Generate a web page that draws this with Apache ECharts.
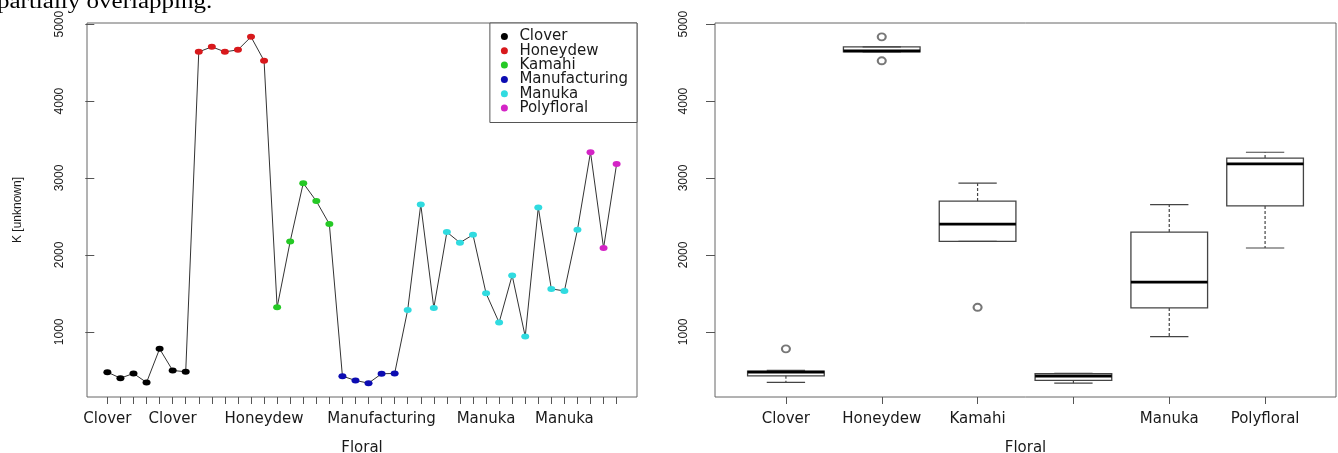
<!DOCTYPE html>
<html>
<head>
<meta charset="utf-8">
<script src="https://cdn.jsdelivr.net/npm/echarts@6/dist/echarts.min.js"></script>
<style>
html,body{margin:0;padding:0;background:#fff;}
#chart{width:1338px;height:453px;}
</style>
</head>
<body>
<div id="chart"></div>
<script>
// ---------- data ----------
const groups = ['Clover', 'Honeydew', 'Kamahi', 'Manufacturing', 'Manuka', 'Polyfloral'];
const kClover = [476, 398, 459, 342, 779, 498, 481];
const kHoneydew = [4640, 4705, 4640, 4666, 4835, 4524];
const kKamahi = [1319, 2175, 2933, 2700, 2401];
const kManufacturing = [424, 368, 333, 455, 459];
const kManuka = [1285, 2655, 1311, 2297, 2159, 2262, 1501, 1121, 1734, 939, 2617, 1558, 1532, 2327];
const kPolyfloral = [3335, 2090, 3183];
const groupValues = [kClover, kHoneydew, kKamahi, kManufacturing, kManuka, kPolyfloral];
const yTickValues = [1000, 2000, 3000, 4000, 5000];
const lineLabelPositions = [1, 6, 13, 22, 30, 36];          // which sample labels R kept
const boxTickLabels = ['Clover', 'Honeydew', 'Kamahi', '', 'Manuka', 'Polyfloral'];
const captionText = 'partially overlapping.';

// ---------- styles ----------
const groupColors = ['#000000', '#d8191c', '#25c925', '#0c0cb2', '#30dbe0', '#d424c6'];
const FONT = '"DejaVu Sans", sans-serif';
const AX = '#555';
const TXT = '#1a1a1a';

// ---------- derived ----------
const flatNames = [], flatVals = [], scatterByGroup = [];
let pos = 1;
groupValues.forEach((arr, gi) => {
  const pts = [];
  arr.forEach(v => { flatNames.push(groups[gi]); flatVals.push(v); pts.push([pos, v]); pos++; });
  scatterByGroup.push(pts);
});
const nPts = flatVals.length;
const lineData = flatVals.map((v, i) => [i + 1, v]);
const allMin = Math.min(...flatVals), allMax = Math.max(...flatVals);
const yMin = allMin - 0.04 * (allMax - allMin), yMax = allMax + 0.04 * (allMax - allMin);

function fivenum(a) {
  const x = a.slice().sort((p, q) => p - q); const n = x.length;
  const n4 = Math.floor((n + 3) / 2) / 2;
  const d = [1, n4, (n + 1) / 2, n + 1 - n4, n];
  return d.map(di => 0.5 * (x[Math.floor(di) - 1] + x[Math.ceil(di) - 1]));
}
const boxData = [], outData = [];
groupValues.forEach((arr, gi) => {
  const f = fivenum(arr); const iqr = f[3] - f[1];
  const lo = f[1] - 1.5 * iqr, hi = f[3] + 1.5 * iqr;
  const inside = arr.filter(v => v >= lo && v <= hi);
  arr.filter(v => v < lo || v > hi).forEach(v => outData.push([gi + 1, v]));
  boxData.push([gi + 1, Math.min(...inside), f[1], f[2], f[3], Math.max(...inside)]);
});
const nG = groups.length;

function xAxisBase(grid, min, max, tickVals, labelVals, fmt) {
  return {
    type: 'value', gridIndex: grid, min: min, max: max,
    name: 'Floral', nameLocation: 'middle', nameGap: 44,
    nameTextStyle: { fontFamily: FONT, fontSize: 15, color: TXT },
    axisLine: { show: false },
    splitLine: { show: false },
    axisTick: { show: true, customValues: tickVals, length: 7, lineStyle: { color: AX, width: 1 } },
    axisLabel: { customValues: labelVals, formatter: fmt, margin: 15, fontFamily: FONT, fontSize: 15, color: TXT, hideOverlap: false }
  };
}
function yAxisBase(grid, margin, withName) {
  const o = {
    type: 'value', gridIndex: grid, min: yMin, max: yMax,
    axisLine: { show: false },
    splitLine: { show: false },
    axisTick: { show: true, customValues: yTickValues, length: 9, lineStyle: { color: AX, width: 1 } },
    axisLabel: { customValues: yTickValues, formatter: v => String(Math.round(v)), rotate: 90, margin: margin,
      fontFamily: '"Liberation Sans", Arial, sans-serif', fontSize: 12, color: TXT }
  };
  if (withName) {
    o.name = 'K [unknown]'; o.nameLocation = 'middle'; o.nameRotate = 90; o.nameGap = 63;
    o.nameTextStyle = { fontFamily: '"Liberation Sans", Arial, sans-serif', fontSize: 12, color: TXT };
  }
  return o;
}

const ticksLeft = []; for (let i = 1; i <= nPts; i++) ticksLeft.push(i);
const ticksRight = []; for (let i = 1; i <= nG; i++) ticksRight.push(i);

const chart = echarts.init(document.getElementById('chart'), null, { renderer: 'canvas' });
const series = [
  {
    type: 'line', xAxisIndex: 0, yAxisIndex: 0, data: lineData, symbol: 'none', silent: true,
    lineStyle: { color: '#333', width: 1 }, z: 2, animation: false
  }
];
groups.forEach((g, gi) => {
  series.push({
    name: g, type: 'scatter', xAxisIndex: 0, yAxisIndex: 0, data: scatterByGroup[gi],
    symbol: 'circle', symbolSize: [8, 6], itemStyle: { color: groupColors[gi], opacity: 1 }, z: 3, animation: false
  });
});
series.push({
  type: 'custom', xAxisIndex: 1, yAxisIndex: 1, data: boxData, animation: false, silent: true,
  encode: { x: 0, y: [1, 2, 3, 4, 5] },
  renderItem: function (params, api) {
    const x = api.value(0), lo = api.value(1), q1 = api.value(2), med = api.value(3), q3 = api.value(4), hi = api.value(5);
    const c = api.coord([x, med]);
    const bl = api.coord([x - 0.4, q1]), tr = api.coord([x + 0.4, q3]);
    const sl = api.coord([x - 0.2, lo]), sr = api.coord([x + 0.2, hi]);
    const pLo = api.coord([x, lo]), pHi = api.coord([x, hi]);
    const ml = api.coord([x - 0.4, med]), mr = api.coord([x + 0.4, med]);
    const dash = { stroke: '#444', lineWidth: 1.2, lineDash: [3, 2] };
    const solid = { stroke: '#444', lineWidth: 1.2 };
    return {
      type: 'group', children: [
        { type: 'line', shape: { x1: c[0], y1: tr[1], x2: c[0], y2: pHi[1] }, style: dash },
        { type: 'line', shape: { x1: c[0], y1: bl[1], x2: c[0], y2: pLo[1] }, style: dash },
        { type: 'line', shape: { x1: sl[0], y1: pHi[1], x2: sr[0], y2: pHi[1] }, style: solid },
        { type: 'line', shape: { x1: sl[0], y1: pLo[1], x2: sr[0], y2: pLo[1] }, style: solid },
        { type: 'rect', shape: { x: bl[0], y: tr[1], width: tr[0] - bl[0], height: bl[1] - tr[1] }, style: { fill: 'none', stroke: '#444', lineWidth: 1.3 } },
        { type: 'line', shape: { x1: ml[0], y1: ml[1], x2: mr[0], y2: mr[1] }, style: { stroke: '#000', lineWidth: 2.6 } }
      ]
    };
  }
});
series.push({
  type: 'scatter', xAxisIndex: 1, yAxisIndex: 1, data: outData, symbol: 'emptyCircle', symbolSize: [8, 7],
  itemStyle: { color: '#555', borderWidth: 0.9 }, animation: false, silent: true, z: 4
});

chart.setOption({
  animation: false,
  backgroundColor: '#fff',
  grid: [
    { left: 87, top: 23, width: 550, height: 374, show: true, borderColor: '#666', borderWidth: 1, backgroundColor: 'transparent', containLabel: false, outerBoundsMode: 'none' },
    { left: 715, top: 23, width: 621, height: 374, show: true, borderColor: '#666', borderWidth: 1, backgroundColor: 'transparent', containLabel: false, outerBoundsMode: 'none' }
  ],
  xAxis: [
    xAxisBase(0, 1 - 0.04 * (nPts - 1) , nPts + 0.04 * (nPts - 1), ticksLeft, lineLabelPositions, v => flatNames[Math.round(v) - 1] || ''),
    xAxisBase(1, 0.5 - 0.04 * nG, nG + 0.5 + 0.04 * nG, ticksRight, ticksRight, v => boxTickLabels[Math.round(v) - 1] || '')
  ],
  yAxis: [yAxisBase(0, 21, true), yAxisBase(1, 25, false)],
  legend: {
    data: groups, orient: 'vertical', right: 701, top: 23, icon: 'circle',
    itemWidth: 8, itemHeight: 7, itemGap: -0.7, selectedMode: false,
    padding: [6, 9, 7, 11], borderColor: '#555', borderWidth: 1, backgroundColor: '#fff',
    textStyle: { fontFamily: FONT, fontSize: 15, color: TXT, padding: [0, 0, 0, 6] }
  },
  graphic: [
    { type: 'text', x: -3, y: 3, scaleX: 1.25, style: { text: captionText, font: '20px "Liberation Serif", serif', fill: '#000', verticalAlign: 'middle' } }
  ],
  series: series
});
</script>
</body>
</html>
